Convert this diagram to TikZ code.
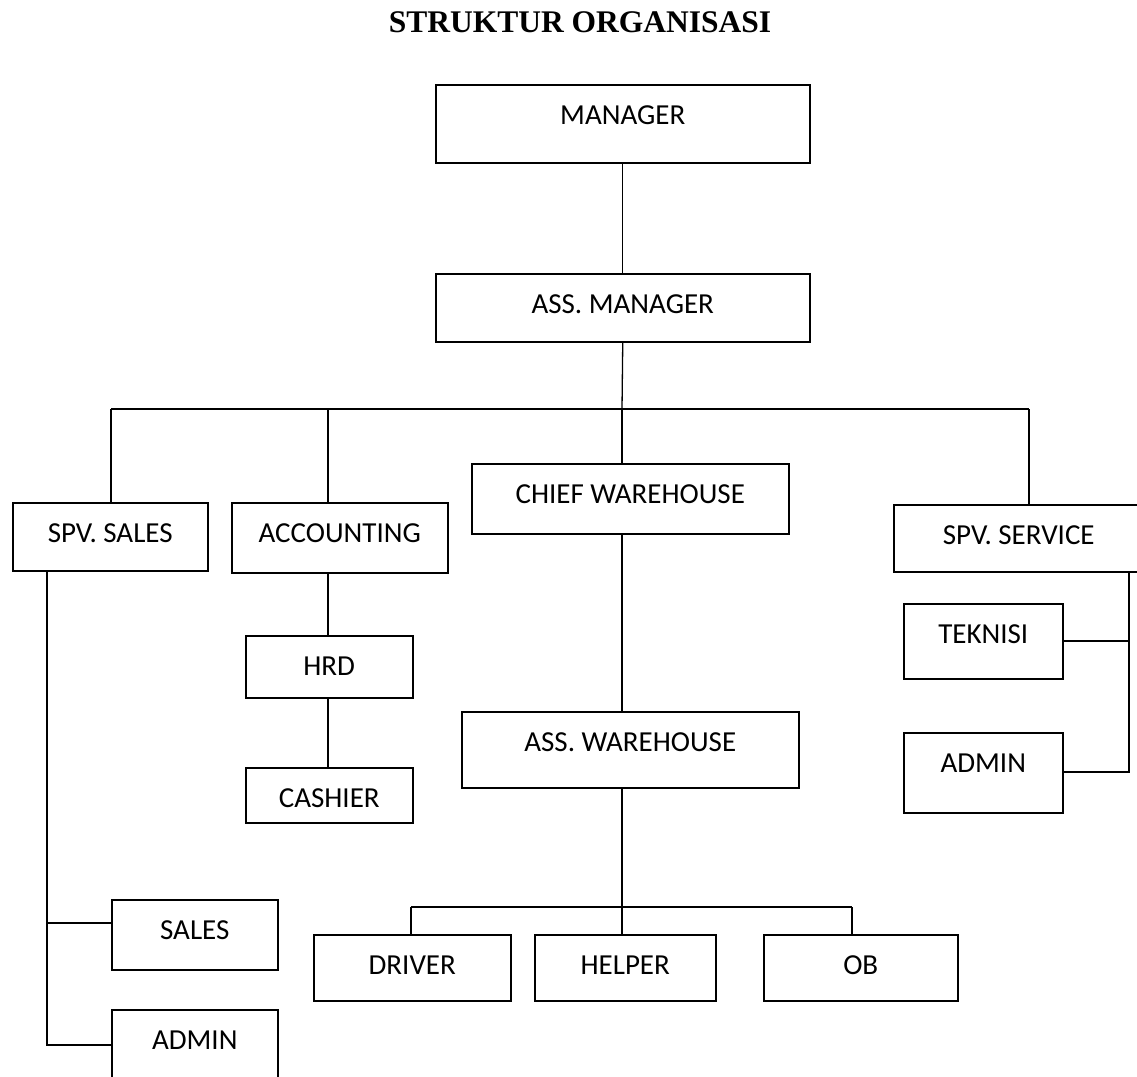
\documentclass[tikz,border=0pt]{standalone}
\usepackage{fontspec}
\setmainfont{Carlito}
\newfontfamily\titlefont{Liberation Serif}
\begin{document}
\begin{tikzpicture}[x=1pt,y=-1pt,
  box/.style={draw, line width=1.5pt, inner sep=0pt, anchor=north west, text height=40pt, font=\fontsize{29}{34}\selectfont},
  conn/.style={line width=1.3pt},
  ttl/.style={font=\titlefont\bfseries\fontsize{31.5}{36}\selectfont, anchor=base, inner sep=0pt}]
\fill[white] (0,0) rectangle (1137,1076);
\useasboundingbox (0,0) rectangle (1137,1076);

\node[ttl] (title) at (580,32) {STRUKTUR ORGANISASI};

\node[box, minimum width=374pt, text depth=38pt] (mgr) at (435,84) {MANAGER};
\node[box, minimum width=374pt, text depth=28pt] (ass) at (435,273) {ASS. MANAGER};
\node[box, minimum width=195pt, text depth=28pt] (spvs) at (12,502) {SPV. SALES};
\node[box, minimum width=216pt, text depth=30pt] (acc) at (231,502) {ACCOUNTING};
\node[box, minimum width=317pt, text depth=30pt] (chief) at (471,463) {CHIEF WAREHOUSE};
\node[box, minimum width=250pt, text depth=27pt] (spvsv) at (893,504) {SPV. SERVICE};
\node[box, minimum width=167pt, text depth=22pt] (hrd) at (245,635) {HRD};
\node[box, minimum width=167pt, text depth=15pt] (cash) at (245,767) {CASHIER};
\node[box, minimum width=337pt, text depth=36pt] (asswh) at (461,711) {ASS. WAREHOUSE};
\node[box, minimum width=159pt, text depth=35pt] (tek) at (903,603) {TEKNISI};
\node[box, minimum width=159pt, text depth=40pt] (admr) at (903,732) {ADMIN};
\node[box, minimum width=166pt, text depth=30pt] (sales) at (111,899) {SALES};
\node[box, minimum width=166pt, text depth=60pt] (adml) at (111,1009) {ADMIN};
\node[box, minimum width=197pt, text depth=26pt] (drv) at (313,934) {DRIVER};
\node[box, minimum width=181pt, text depth=26pt] (hlp) at (534,934) {HELPER};
\node[box, minimum width=194pt, text depth=26pt] (ob) at (763,934) {OB};

% junction coordinates
\coordinate (j0) at (622,409);
\coordinate (hL) at (111,409);
\coordinate (hA) at (328,409);
\coordinate (hR) at (1029,409);
\coordinate (w0) at (622,907);
\coordinate (wL) at (411,907);
\coordinate (wR) at (852,907);
\coordinate (s1) at (47,923);
\coordinate (s2) at (47,1045);
\coordinate (r1) at (1129,641);
\coordinate (r2) at (1129,772);

\draw[conn] (mgr.south) -- (ass.north);
\draw[conn] (ass.south) -- (j0);
\draw[conn] (hL) -- (hR);
\draw[conn] (hL) -- (hL |- spvs.north);
\draw[conn] (hA) -- (hA |- acc.north);
\draw[conn] (j0) -- (j0 |- chief.north);
\draw[conn] (hR) -- (hR |- spvsv.north);

\draw[conn] (hA |- acc.south) -- (hA |- hrd.north);
\draw[conn] (hA |- hrd.south) -- (hA |- cash.north);

\draw[conn] (w0 |- chief.south) -- (w0 |- asswh.north);
\draw[conn] (w0 |- asswh.south) -- (w0);
\draw[conn] (wL) -- (wR);
\draw[conn] (wL) -- (wL |- drv.north);
\draw[conn] (w0) -- (w0 |- hlp.north);
\draw[conn] (wR) -- (wR |- ob.north);

\draw[conn] (s1 |- spvs.south) -- (s2) -- (s2 -| adml.west);
\draw[conn] (s1) -- (s1 -| sales.west);

\draw[conn] (r1 |- spvsv.south) -- (r2) -- (r2 -| admr.east);
\draw[conn] (r1) -- (r1 -| tek.east);
\end{tikzpicture}
\end{document}
